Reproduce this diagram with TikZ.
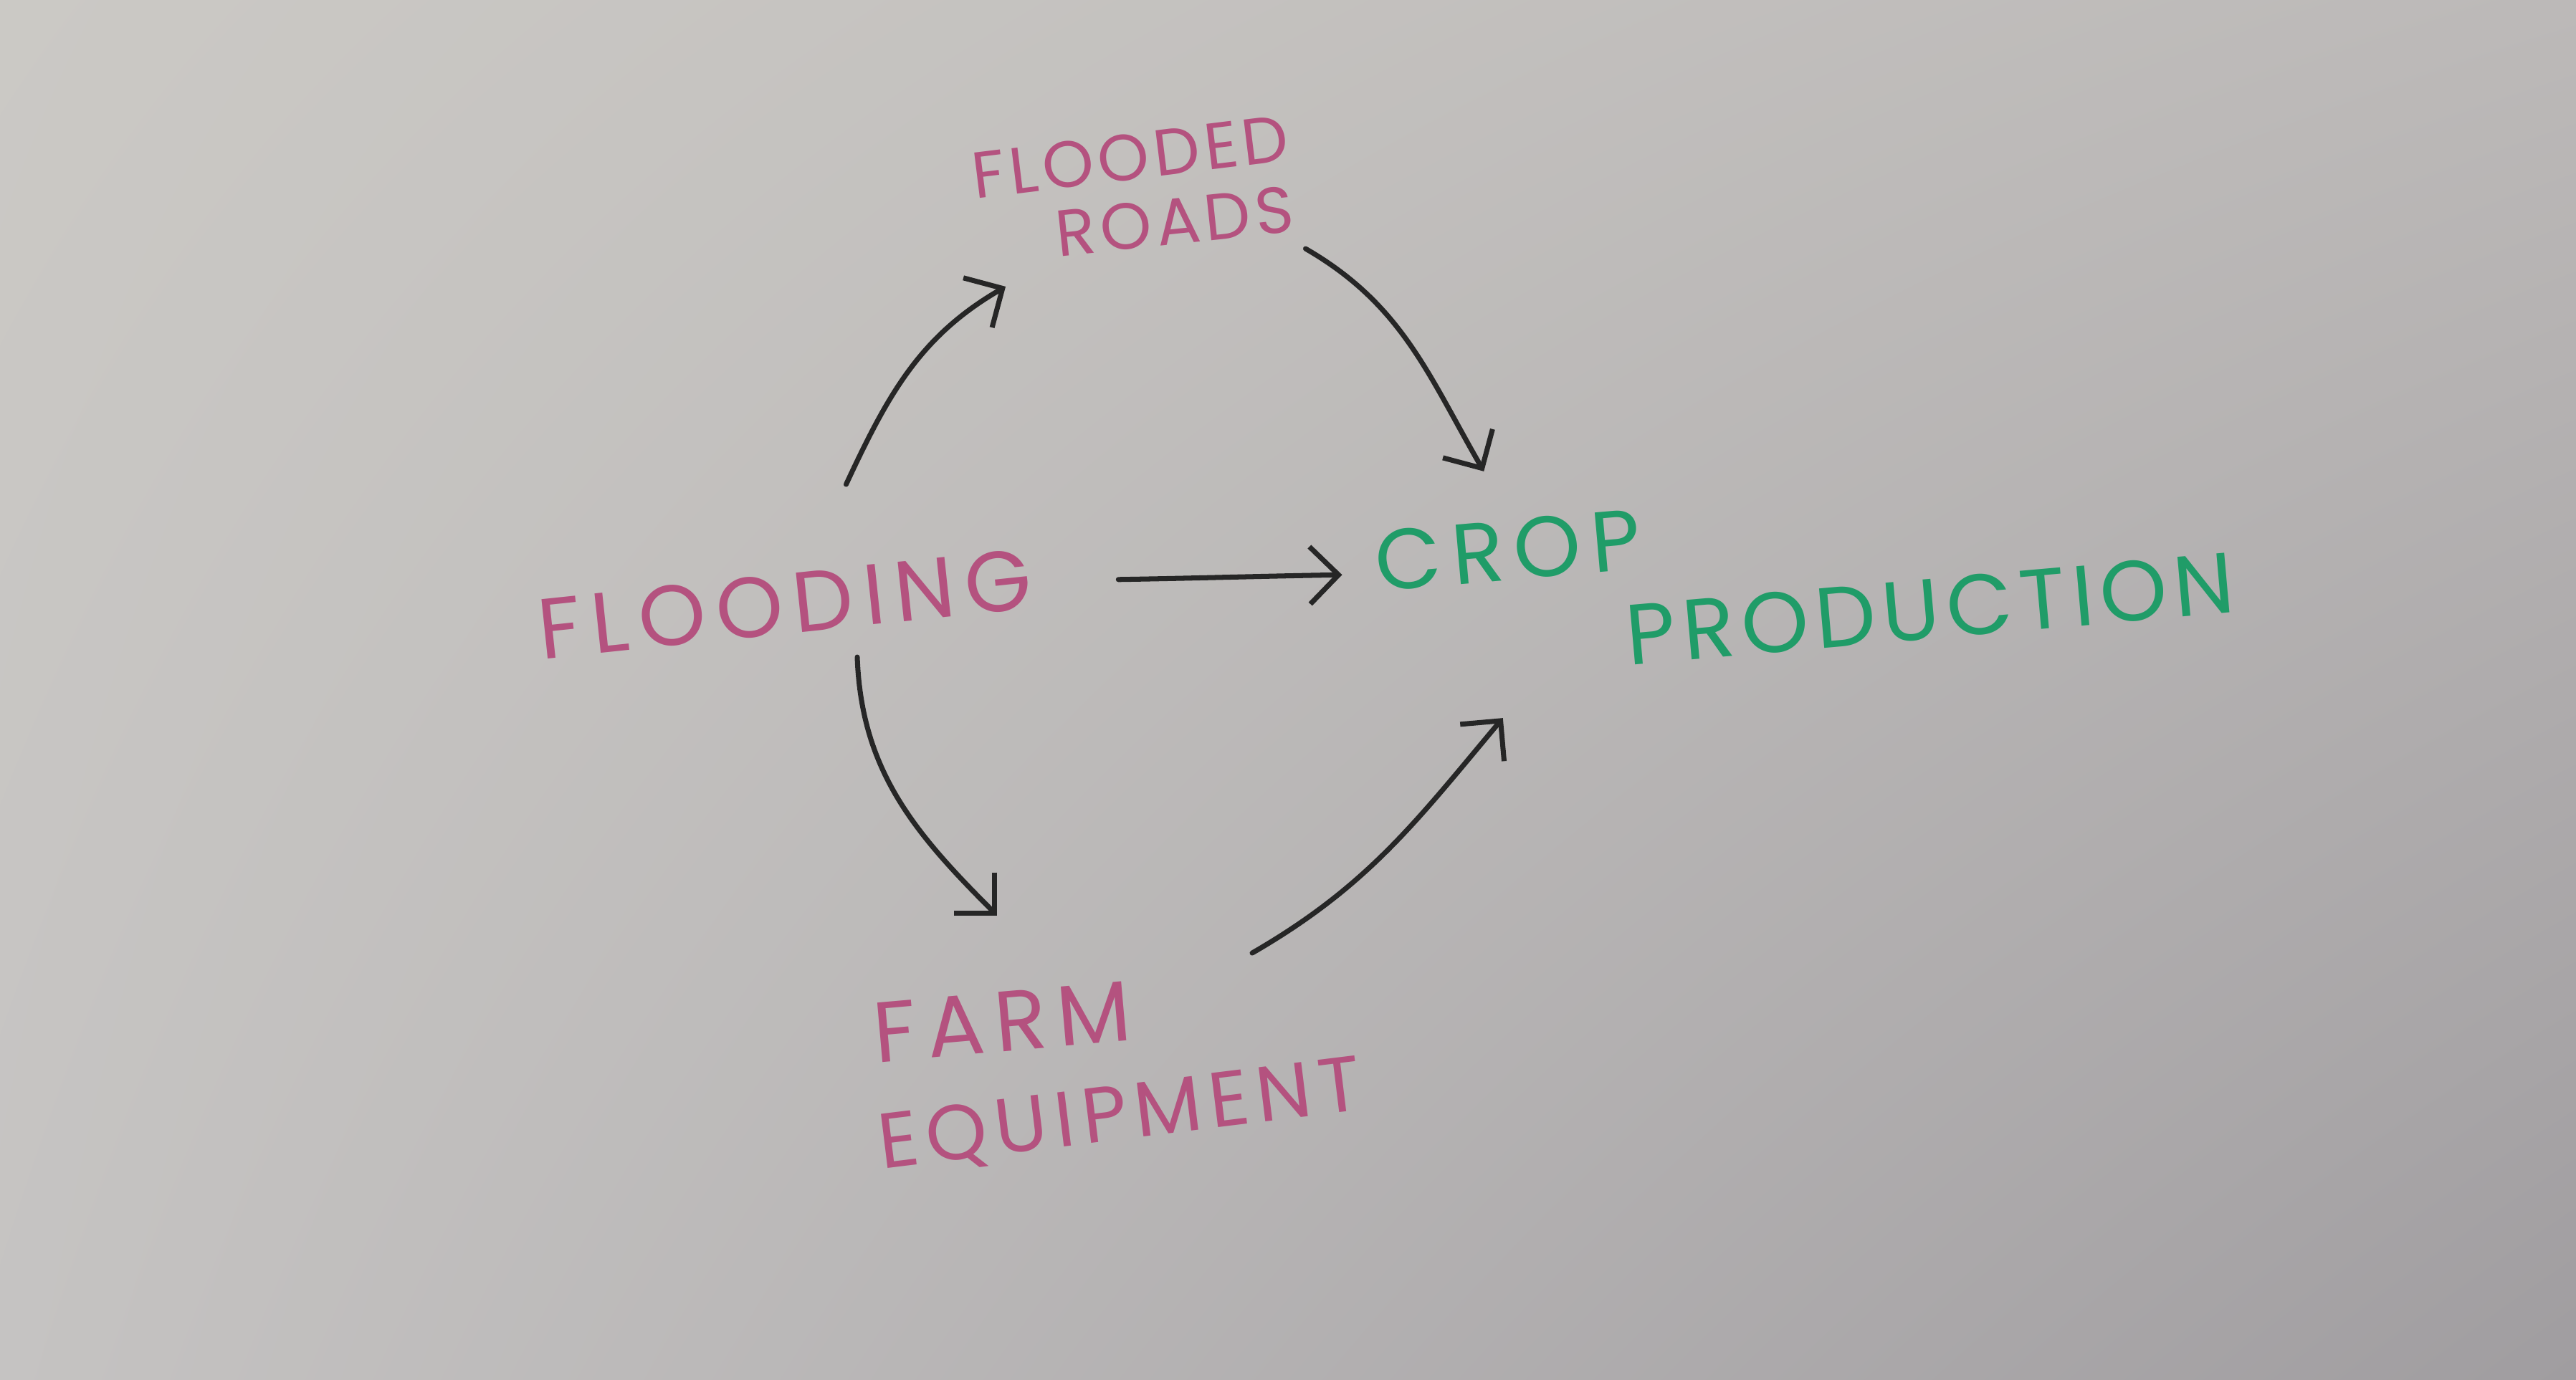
\documentclass[tikz,border=0pt]{standalone}
\usepackage{fontspec}
\newfontfamily\handfont{Poppins}
\usetikzlibrary{arrows.meta,shadings}

\definecolor{inkpink}{RGB}{180,82,127}
\definecolor{inkgreen}{RGB}{32,156,104}
\definecolor{inkdark}{RGB}{38,38,38}
\definecolor{paperA}{RGB}{203,201,197}
\definecolor{paperB}{RGB}{188,185,184}
\definecolor{paperC}{RGB}{197,195,194}
\definecolor{paperD}{RGB}{160,157,160}

\begin{document}
\begin{tikzpicture} [
            cause/.style={text=inkpink, font=\handfont\fontsize{34}{40}\selectfont, inner sep=0pt},
            small cause/.style={cause, font=\handfont\fontsize{26}{32}\selectfont},
            long cause/.style={cause, font=\handfont\fontsize{31}{37}\selectfont},
            outcome/.style={text=inkgreen, font=\handfont\fontsize{34}{40}\selectfont, inner sep=0pt},
            link/.style={draw=inkdark, line width=2pt, line cap=round,
                -{Straight Barb[length=4mm,width=8mm]}},
        ]
        \useasboundingbox (0,0) rectangle (35.94,19.25);
        % the paper
        \shade[upper left=paperA, upper right=paperB, lower left=paperC, lower right=paperD]
            (0,0) rectangle (35.94,19.25);
        % First the labels
        \foreach \pos/\name/\ang/\ls/\kind/\txt in {
                % top
                {(15.77,17.06)/flooded/7/7/small cause/FLOODED},
                {(16.39,16.16)/roads/6/7/small cause/ROADS},
                % middle row
                {(10.95,10.82)/flooding/6/12/cause/FLOODING},
                {(21.04,11.57)/crop/5/12/outcome/CROP},
                {(26.93,10.75)/production/5/8/outcome/PRODUCTION},
                % bottom
                {(13.98,4.99)/farm/5/12/cause/FARM},
                {(15.63,3.66)/equipment/7/10/long cause/EQUIPMENT}}
            \node[\kind, rotate=\ang] (\name) at \pos {\addfontfeature{LetterSpace=\ls}\txt};
        % Connect labels with arrows
        \foreach \src/\sx/\sy/\dst/\dx/\dy/\o/\i in {
                flooding.north/0.9/1.24/flooded.south/-1.78/-1.48/65/210,
                roads.south/1.79/-0.05/crop.north/-0.30/0.67/-30/120,
                flooding.east/1.21/-0.02/crop.west/-0.46/-0.18/1/181,
                flooding.south/0.965/-0.31/farm.north/-0.03/1.06/-88/135,
                farm.north east/1.73/0.38/crop.south/-0.11/-1.91/30/230}
            \draw[link] ([shift={(\sx,\sy)}]\src) to[out=\o,in=\i] ([shift={(\dx,\dy)}]\dst);
    \end{tikzpicture}
\end{document}
